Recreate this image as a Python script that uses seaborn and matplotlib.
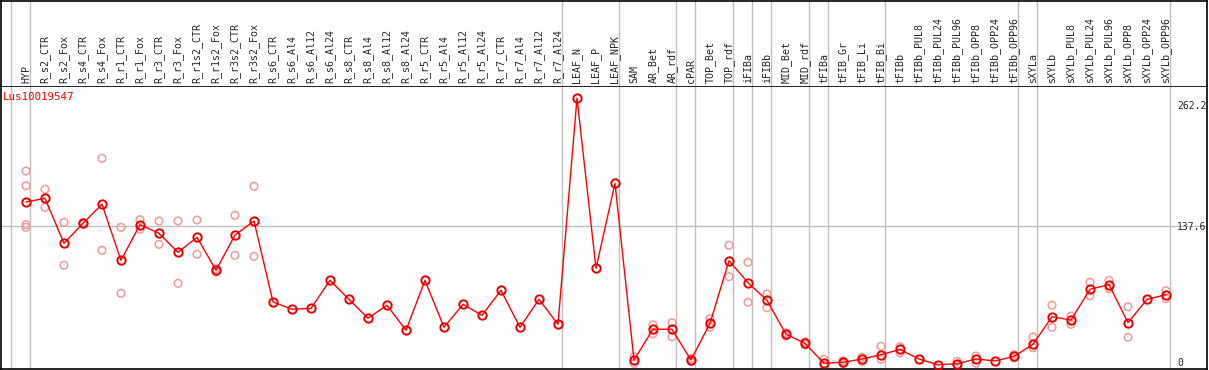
import pandas as pd, numpy as np
import matplotlib
matplotlib.use("Agg")
import matplotlib.pyplot as plt
import seaborn as sns

# sample names (column order of the chart)
samples = ["HYP", "R_s2_CTR", "R_s2_Fox", "R_s4_CTR", "R_s4_Fox", "R_r1_CTR", "R_r1_Fox",
           "R_r3_CTR", "R_r3_Fox", "R_r1s2_CTR", "R_r1s2_Fox", "R_r3s2_CTR", "R_r3s2_Fox",
           "R_s6_CTR", "R_s6_Al4", "R_s6_Al12", "R_s6_Al24", "R_s8_CTR", "R_s8_Al4", "R_s8_Al12",
           "R_s8_Al24", "R_r5_CTR", "R_r5_Al4", "R_r5_Al12", "R_r5_Al24", "R_r7_CTR", "R_r7_Al4",
           "R_r7_Al12", "R_r7_Al24", "LEAF_N", "LEAF_P", "LEAF_NPK", "SAM", "AR_Bet", "AR_rdf",
           "cPAR", "TOP_Bet", "TOP_rdf", "iFIBa", "iFIBb", "MID_Bet", "MID_rdf", "tFIBa",
           "tFIB_Gr", "tFIB_Li", "tFIB_Bi", "tFIBb", "tFIBb_PUL8", "tFIBb_PUL24", "tFIBb_PUL96",
           "tFIBb_OPP8", "tFIBb_OPP24", "tFIBb_OPP96", "sXYLa", "sXYLb", "sXYLb_PUL8",
           "sXYLb_PUL24", "sXYLb_PUL96", "sXYLb_OPP8", "sXYLb_OPP24", "sXYLb_OPP96"]

# mean expression per sample
means = [160.9, 164.5, 120.6, 140.1, 158.7, 104.0, 138.8, 130.4, 111.8, 126.5, 94.3, 128.7, 142.4,
         63.4, 56.3, 57.2, 84.5, 66.0, 47.5, 60.2, 35.8, 84.5, 38.7, 61.1, 50.4, 74.8, 38.7,
         66.0, 41.6, 262.2, 96.2, 179.1, 6.8, 36.8, 36.8, 6.8, 42.6, 103.7, 82.2, 65.0, 31.9,
         23.1, 3.6, 4.6, 7.8, 12.0, 17.1, 7.8, 2.2, 3.2, 7.8, 5.9, 10.4, 22.1, 49.0, 45.8,
         75.8, 80.3, 43.2, 66.0, 70.5]

# individual replicates (empty = single value)
replicates = [[191.1, 176.8, 138.8, 136.2], [173.3, 155.7], [141.1, 99.2], [140.7, 139.4],
              [203.5, 113.8], [136.2, 71.9], [143.6, 134.3], [142.4, 119.6], [142.4, 81.6],
              [143.3, 109.9], [92.6, 95.9], [147.9, 108.9], [176.2, 107.9],
              [], [], [], [], [], [], [], [], [], [], [], [], [], [], [], [],
              [], [], [], [10.0, 3.6], [41.0, 32.5], [43.2, 29.5], [8.3, 5.4], [47.1, 38.7],
              [118.7, 88.1], [102.1, 63.1], [71.2, 57.8], [33.4, 30.2], [24.7, 21.5],
              [7.5, 1.7], [6.1, 3.2], [9.5, 5.2], [20.2, 7.5], [19.8, 13.9], [], [],
              [5.6, 2.0], [10.7, 3.6], [], [12.0, 8.8], [29.3, 18.8], [60.2, 38.7],
              [49.7, 41.6], [82.6, 69.5], [84.5, 76.4], [58.8, 29.0], [], [74.4, 66.6]]

# vertical separators sit just after these sample indices
separators = [-1, 0, 28, 31, 34, 35, 37, 38, 39, 41, 42, 45, 52, 53, 60]
gene = "Lus10019547"
y_ticks = [262.2, 137.6, 0]

df = pd.DataFrame({"x": np.arange(len(samples)), "sample": samples, "mean": means})
rep_df = pd.DataFrame([(i, v) for i, r in enumerate(replicates) for v in r], columns=["x", "value"])

sns.set_style("white")
plt.rcParams["font.family"] = ["DejaVu Sans Mono", "DejaVu Sans"]

W, H = 1209, 370
fig = plt.figure(figsize=(W / 100, H / 100), dpi=100)
x0, x1 = 1, 1207
ax = fig.add_axes([x0 / W, (H - 369) / H, (x1 - x0) / W, (369 - 86) / H])
hx = fig.add_axes([x0 / W, (H - 86) / H, (x1 - x0) / W, (86 - 0.5) / H])

xlim = ((x0 - 26) / 19, (x1 - 26) / 19)
for a in (ax, hx):
    a.set_xlim(*xlim)
    a.set_xticks([])
    a.set_yticks([])
    for s in a.spines.values():
        s.set_color("black")
        s.set_linewidth(1.2)
    for sp in separators:
        a.axvline(sp + 0.21, color="#c0c0c0", lw=1, zorder=0)
hx.spines["bottom"].set_visible(False)
ax.set_ylim(-1.95, 274.0)
hx.set_ylim(0, 1)
ax.axhline(137.6, color="#c0c0c0", lw=1, zorder=0)

# replicates
sns.scatterplot(data=rep_df, x="x", y="value", ax=ax, marker="o", s=30,
                facecolors="none", edgecolor="#f09a9a", linewidth=1.1, zorder=2, legend=False)
# mean line
sns.lineplot(data=df, x="x", y="mean", ax=ax, color="#ff0000", lw=1, zorder=3,
             marker="o", markersize=6, markerfacecolor="none", markeredgecolor="#e80000",
             markeredgewidth=1.4)
ax.set_xlabel("")
ax.set_ylabel("")
ax.set_xlim(*xlim)

# sample labels in header
for i, s in enumerate(samples):
    hx.text(i, 0.04, s, rotation=90, ha="center", va="bottom", fontsize=7.2)

# y labels on the right, left-aligned, kept inside the box
offsets = {262.2: -8, 137.6: -1, 0: 4}
for v in y_ticks:
    lab = f"{v:g}" if v != 0 else "0"
    ax.annotate(lab, xy=(1, v), xycoords=("axes fraction", "data"),
                xytext=(-30 * 0.72, offsets[v] * 0.72), textcoords="offset points",
                ha="left", va="center", fontsize=7.0)

fig.text(3 / W, 1 - 97 / H, gene, color="#ff0000", ha="left", va="center", fontsize=7.8)

fig.savefig("out.png", dpi=100)
